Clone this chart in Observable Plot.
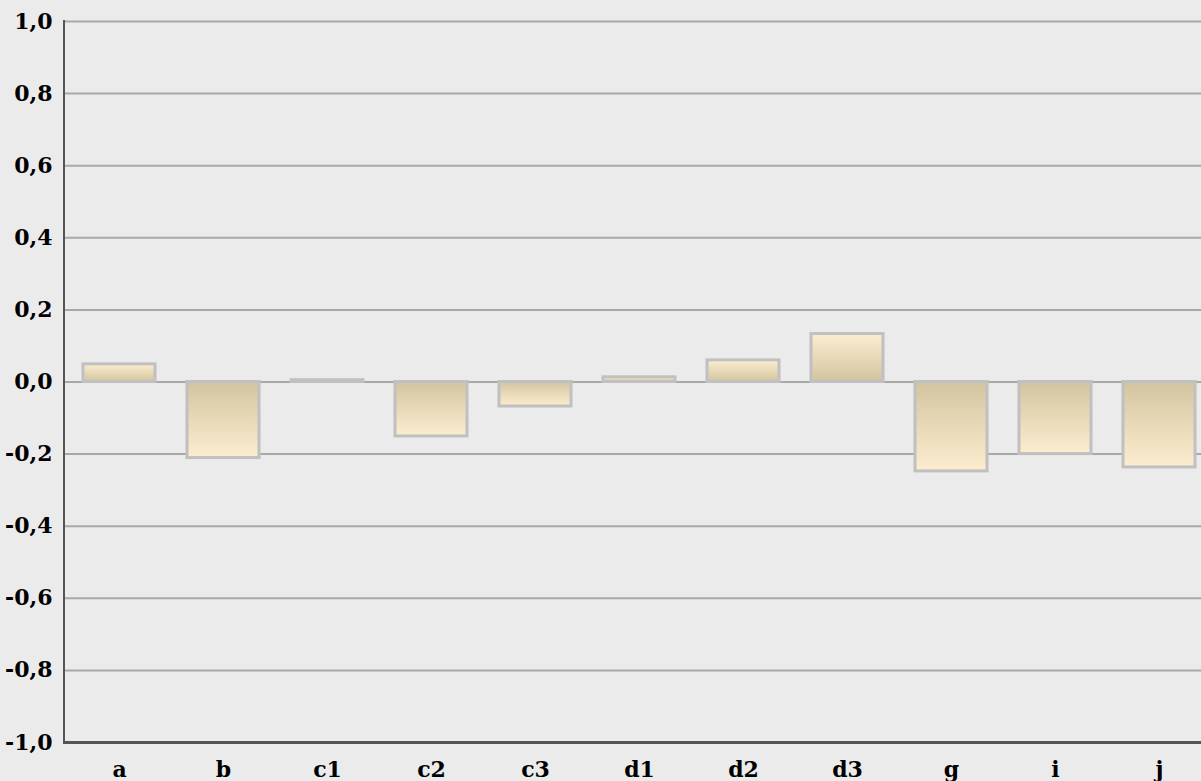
<!DOCTYPE html>
<html>
<head>
<meta charset="utf-8">
<script src="https://cdn.jsdelivr.net/npm/d3@7"></script>
<script src="https://cdn.jsdelivr.net/npm/@observablehq/plot@0.6"></script>
<style>
  html, body { margin: 0; padding: 0; background: #ebebeb; overflow: hidden; }
  #chart svg { display: block; }
  #chart svg text { font-size: 22px !important; font-family: 'DejaVu Serif', serif !important; font-weight: bold !important; }
</style>
</head>
<body>
<div id="chart"></div>
<script>
const categories = ["a", "b", "c1", "c2", "c3", "d1", "d2", "d3", "g", "i", "j"];
const values = [0.049, -0.211, 0.005, -0.151, -0.068, 0.013, 0.06, 0.133, -0.248, -0.2, -0.237];
const yTicks = [-1.0, -0.8, -0.6, -0.4, -0.2, 0.0, 0.2, 0.4, 0.6, 0.8, 1.0];

const data = categories.map((c, i) => ({ cat: c, value: values[i] }));
const fmt = v => d3.format(".1f")(v).replace(".", ",").replace("−", "-");
const font = "'DejaVu Serif', serif";

const plot = Plot.plot({
  width: 1201,
  height: 781,
  marginLeft: 64,
  marginRight: 0,
  marginTop: 21,
  marginBottom: 39,
  style: { background: "#ebebeb", fontFamily: font, fontWeight: "bold", fontSize: "22px", color: "#000" },
  x: { domain: categories, range: [64, 1214.5], paddingInner: 0.31, paddingOuter: 0.155, label: null },
  y: { domain: [-1, 1], label: null },
  marks: [
    Plot.ruleY(yTicks.filter(v => v > -1), { stroke: "#a9a9a9", strokeWidth: 2, strokeOpacity: 1 }),
    Plot.barY(data.filter(d => d.value >= 0), { x: "cat", y: "value", fill: "url(#gradPos)", stroke: "#c0c0c0", strokeWidth: 3 }),
    Plot.barY(data.filter(d => d.value < 0), { x: "cat", y: "value", fill: "url(#gradNeg)", stroke: "#c0c0c0", strokeWidth: 3 }),
    Plot.axisY({ ticks: yTicks, tickFormat: fmt, tickSize: 0, tickPadding: 12, fontSize: 22, fontWeight: "bold", fill: "#000", label: null }),
    Plot.axisX({ tickSize: 0, tickPadding: 19, fontSize: 22, fontWeight: "bold", fill: "#000", label: null }),
    Plot.ruleY([-1], { stroke: "#555555", strokeWidth: 3 })
  ]
});

// left axis line and gradients
const svg = d3.select(plot);
const defs = svg.insert("defs", ":first-child");
const gp = defs.append("linearGradient").attr("id", "gradPos").attr("x1", 0).attr("y1", 0).attr("x2", 0).attr("y2", 1);
gp.append("stop").attr("offset", "0%").attr("stop-color", "#fcedd0");
gp.append("stop").attr("offset", "100%").attr("stop-color", "#d3c4a0");
const gn = defs.append("linearGradient").attr("id", "gradNeg").attr("x1", 0).attr("y1", 0).attr("x2", 0).attr("y2", 1);
gn.append("stop").attr("offset", "0%").attr("stop-color", "#d3c4a0");
gn.append("stop").attr("offset", "100%").attr("stop-color", "#fcedd0");
svg.append("line").attr("x1", 64).attr("x2", 64).attr("y1", 20).attr("y2", 744)
  .attr("stroke", "#555555").attr("stroke-width", 2);

document.getElementById("chart").appendChild(plot);
</script>
</body>
</html>
